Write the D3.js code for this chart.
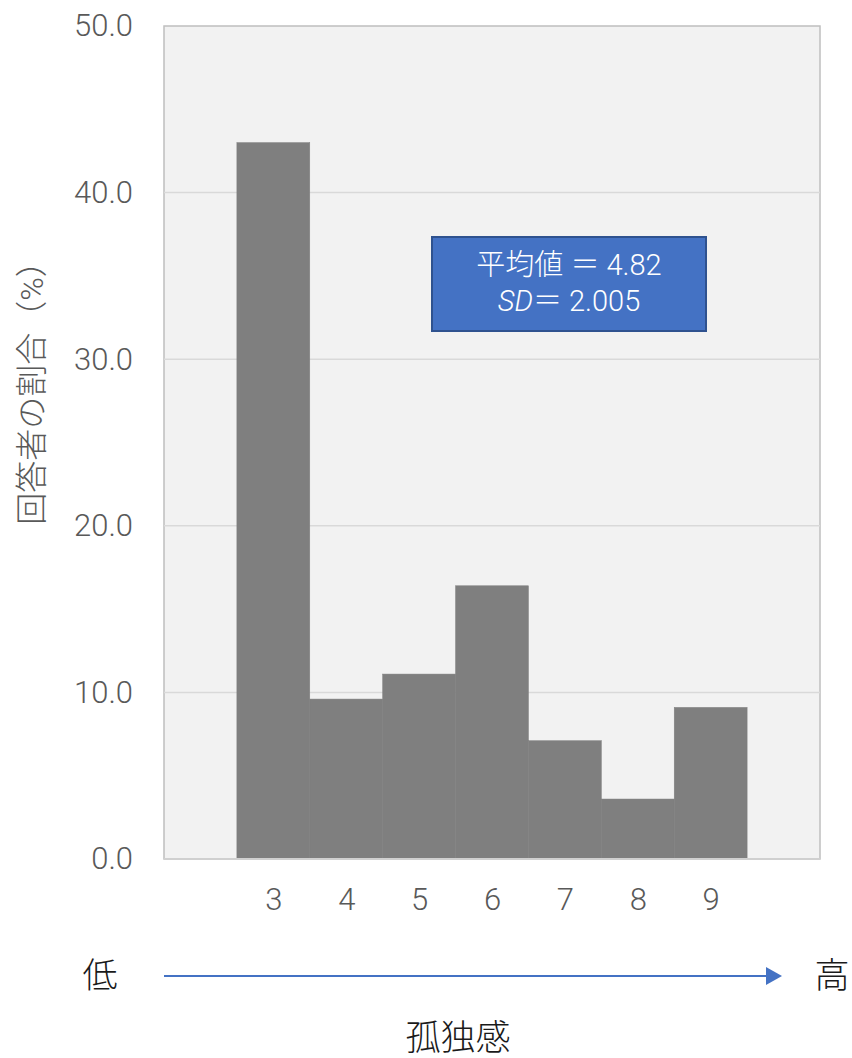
<!DOCTYPE html>
<html>
<head>
<meta charset="utf-8">
<script src="https://cdn.jsdelivr.net/npm/d3@7"></script>
<style>
  body { margin: 0; background: #fff; }
  svg text { font-family: "Roboto", "Noto Sans CJK JP", sans-serif; font-weight: 300; }
</style>
</head>
<body>
<svg id="chart" width="852" height="1058"></svg>
<script>
// data
var scores = [3, 4, 5, 6, 7, 8, 9];
var percents = [43.0, 9.6, 11.1, 16.4, 7.1, 3.6, 9.1];
var yTicks = [0, 10, 20, 30, 40, 50];
var yTitle = "回答者の割合（%）";
var xTitle = "孤独感";
var lowLabel = "低", highLabel = "高";
var statLines = ["平均値 ＝ 4.82", "SD＝ 2.005"];

var data = scores.map(function(s, i) { return {score: s, pct: percents[i]}; });

var plot = {left: 164, right: 820, top: 26, bottom: 859};

var svg = d3.select("#chart");

// scales
var x = d3.scaleLinear().domain([1.5, 10.5]).range([plot.left, plot.right]);
var y = d3.scaleLinear().domain([0, 50]).range([plot.bottom, plot.top]);

// plot background
svg.append("rect")
  .attr("x", plot.left).attr("y", plot.top)
  .attr("width", plot.right - plot.left).attr("height", plot.bottom - plot.top)
  .attr("fill", "#f2f2f2")
  .attr("stroke", "#bfbfbf").attr("stroke-width", 1.5);

// gridlines
svg.append("g").selectAll("line")
  .data(yTicks.filter(function(d) { return d > 0 && d < 50; }))
  .enter().append("line")
    .attr("x1", plot.left).attr("x2", plot.right)
    .attr("y1", function(d) { return y(d); })
    .attr("y2", function(d) { return y(d); })
    .attr("stroke", "#d9d9d9").attr("stroke-width", 1.5);

// bars
svg.append("g").selectAll("rect")
  .data(data)
  .enter().append("rect")
    .attr("x", function(d) { return x(d.score - 0.5); })
    .attr("width", function(d) { return x(d.score + 0.5) - x(d.score - 0.5); })
    .attr("y", function(d) { return y(d.pct); })
    .attr("height", function(d) { return y(0) - y(d.pct); })
    .attr("fill", "#7f7f7f")
    .attr("stroke", "#7f7f7f").attr("stroke-width", 0.5);

// bottom axis line
svg.append("line")
  .attr("x1", plot.left).attr("x2", plot.right)
  .attr("y1", y(0)).attr("y2", y(0))
  .attr("stroke", "#d0d0d0").attr("stroke-width", 2);

// y axis
var yAxis = d3.axisLeft(y).tickValues(yTicks).tickFormat(d3.format(".1f")).tickSize(0).tickPadding(31);
var gy = svg.append("g").attr("transform", "translate(" + plot.left + ",0)").call(yAxis);
gy.select(".domain").remove();
gy.selectAll("text").attr("font-size", 31).attr("fill", "#595959")
  .attr("font-family", "Roboto, 'Noto Sans CJK JP', sans-serif");

// x axis
var xAxis = d3.axisBottom(x).tickValues(scores).tickFormat(d3.format("d")).tickSize(0).tickPadding(29);
var gx = svg.append("g").attr("transform", "translate(0," + plot.bottom + ")").call(xAxis);
gx.select(".domain").remove();
gx.selectAll("text").attr("font-size", 31).attr("fill", "#595959")
  .attr("font-family", "Roboto, 'Noto Sans CJK JP', sans-serif");

// y title
svg.append("text")
  .attr("transform", "translate(43," + 385 + ") rotate(-90)")
  .attr("text-anchor", "middle")
  .attr("font-size", 32)
  .attr("fill", "#595959")
  .attr("font-family", "'Noto Sans CJK JP', sans-serif")
  .text(yTitle);

// stats box
var box = svg.append("g");
box.append("rect")
  .attr("x", 432).attr("y", 237).attr("width", 274).attr("height", 94)
  .attr("fill", "#4472c4").attr("stroke", "#2f528f").attr("stroke-width", 2);
box.append("text")
  .attr("x", 569).attr("y", 275)
  .attr("text-anchor", "middle").attr("font-size", 29).attr("fill", "#fff")
  .attr("font-family", "'Noto Sans CJK JP', sans-serif")
  .text(statLines[0]);
var t2 = box.append("text")
  .attr("x", 569).attr("y", 311)
  .attr("text-anchor", "middle").attr("font-size", 29).attr("fill", "#fff")
  .attr("font-family", "'Noto Sans CJK JP', sans-serif");
t2.append("tspan").attr("font-style", "italic").text(statLines[1].slice(0, 2));
t2.append("tspan").text(statLines[1].slice(2));

// arrow under axis
svg.append("line")
  .attr("x1", plot.left).attr("x2", 768)
  .attr("y1", 976).attr("y2", 976)
  .attr("stroke", "#4472c4").attr("stroke-width", 2);

svg.append("path")
  .attr("d", "M766,967 L782,976 L766,985 Z")
  .attr("fill", "#4472c4");

svg.append("text")
  .attr("x", 100).attr("y", 988)
  .attr("text-anchor", "middle").attr("font-size", 35).attr("fill", "#1a1a1a")
  .attr("font-family", "'Noto Sans CJK JP', sans-serif")
  .text(lowLabel);
svg.append("text")
  .attr("x", 832).attr("y", 988)
  .attr("text-anchor", "middle").attr("font-size", 35).attr("fill", "#1a1a1a")
  .attr("font-family", "'Noto Sans CJK JP', sans-serif")
  .text(highLabel);
svg.append("text")
  .attr("x", 458).attr("y", 1050)
  .attr("text-anchor", "middle").attr("font-size", 35).attr("fill", "#1a1a1a")
  .attr("font-family", "'Noto Sans CJK JP', sans-serif")
  .text(xTitle);
</script>
</body>
</html>
